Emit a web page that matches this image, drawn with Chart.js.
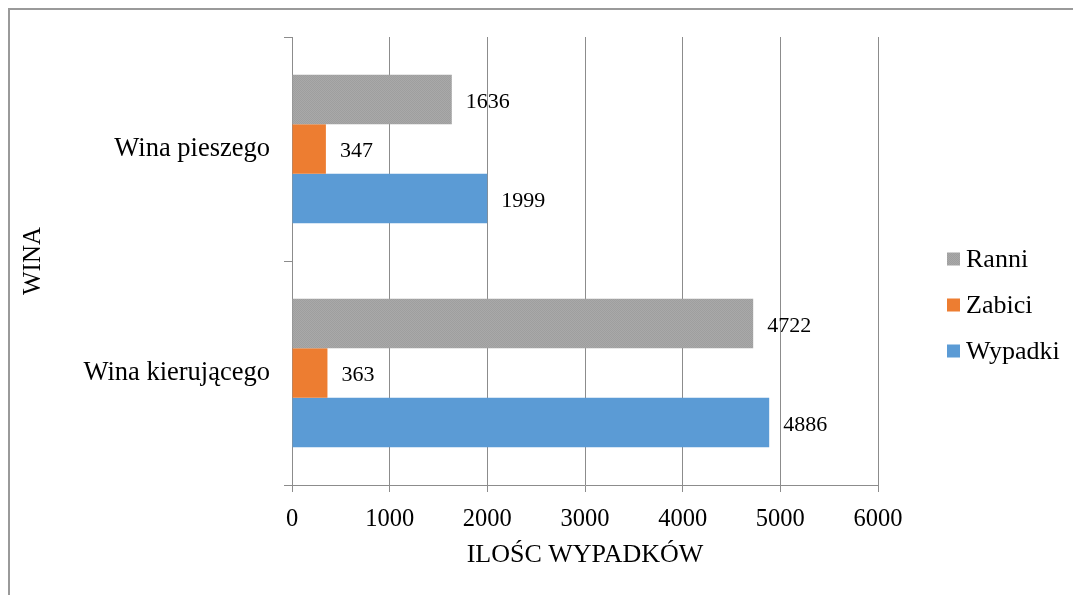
<!DOCTYPE html>
<html>
<head>
<meta charset="utf-8">
<script src="https://cdn.jsdelivr.net/npm/chart.js@4/dist/chart.umd.min.js"></script>
<style>
  html, body { margin: 0; padding: 0; background: #fff; }
  #wrap { width: 1073px; height: 595px; position: relative; }
</style>
</head>
<body>
<div id="wrap"><canvas id="c" width="1073" height="595"></canvas></div>
<script>
// Causes of accidents (top to bottom as drawn)
const categories = ['Wina pieszego', 'Wina kierującego'];
const seriesNames = ['Ranni', 'Zabici', 'Wypadki'];
const ranni = [1636, 4722];
const zabici = [347, 363];
const wypadki = [1999, 4886];
const xTicks = [0, 1000, 2000, 3000, 4000, 5000, 6000];
const xTitle = 'ILOŚC WYPADKÓW';
const yTitle = 'WINA';

const SERIF = "'Liberation Serif', 'Times New Roman', serif";
const GRID = '#8c8c8c';

// fine dotted texture for the grey series
function greyTexture() {
  const p = document.createElement('canvas');
  p.width = 2; p.height = 2;
  const g = p.getContext('2d');
  g.fillStyle = '#a9a9a9'; g.fillRect(0, 0, 2, 2);
  g.fillStyle = '#9e9e9e'; g.fillRect(0, 0, 1, 1); g.fillRect(1, 1, 1, 1);
  return g.createPattern(p, 'repeat');
}
const ctx0 = document.getElementById('c').getContext('2d');
const greyFill = greyTexture();

const seriesColors = [greyFill, '#ed7d31', '#5b9bd5'];
const seriesValues = [ranni, zabici, wypadki];

// white page with a thin frame on the top and left edges
const framePlugin = {
  id: 'frame',
  beforeDraw(chart) {
    const c = chart.ctx;
    c.save();
    c.fillStyle = '#fff';
    c.fillRect(0, 0, chart.width, chart.height);
    c.fillStyle = '#9a9a9a';
    c.fillRect(8, 8, chart.width - 8, 2);
    c.fillRect(8, 8, 2, chart.height - 8);
    c.restore();
  }
};

// value labels just past the end of each bar
const valueLabels = {
  id: 'valueLabels',
  afterDatasetsDraw(chart) {
    const c = chart.ctx;
    c.save();
    c.font = '22px ' + SERIF;
    c.fillStyle = '#000';
    c.textAlign = 'left';
    c.textBaseline = 'middle';
    chart.data.datasets.forEach((ds, i) => {
      chart.getDatasetMeta(i).data.forEach((bar, j) => {
        c.fillText(String(ds.data[j]), bar.x + 14, bar.y + 2.5);
      });
    });
    c.restore();
  }
};

// legend on the right, one entry per line
const sideLegend = {
  id: 'sideLegend',
  afterDraw(chart) {
    const c = chart.ctx;
    c.save();
    c.font = '26px ' + SERIF;
    c.textAlign = 'left';
    c.textBaseline = 'middle';
    chart.data.datasets.forEach((ds, i) => {
      const cy = 259 + i * 46;
      c.fillStyle = ds.backgroundColor;
      c.fillRect(947, cy - 6.5, 13, 13);
      c.fillStyle = '#000';
      c.fillText(ds.label, 966, cy + 1.5);
    });
    c.restore();
  }
};

new Chart(ctx0, {
  type: 'bar',
  data: {
    labels: categories,
    datasets: seriesNames.map((name, i) => ({
      label: name,
      data: seriesValues[i],
      backgroundColor: seriesColors[i],
      borderWidth: 0,
      barPercentage: 1,
      categoryPercentage: 0.664
    }))
  },
  options: {
    indexAxis: 'y',
    responsive: false,
    animation: false,
    layout: { padding: { left: 0, top: 37, right: 195, bottom: 0 } },
    plugins: {
      legend: { display: false },
      tooltip: { enabled: false }
    },
    scales: {
      x: {
        type: 'linear',
        min: xTicks[0],
        max: xTicks[xTicks.length - 1],
        afterBuildTicks(scale) { scale.ticks = xTicks.map(v => ({ value: v })); },
        afterFit(scale) { scale.height = 110; },
        grid: { color: GRID, lineWidth: 1, tickLength: 7, drawTicks: true },
        border: { color: GRID, width: 1 },
        ticks: {
          font: { family: SERIF, size: 24.5 }, color: '#000', padding: 13, maxRotation: 0,
          callback: v => String(v)
        },
        title: {
          display: true, text: xTitle, color: '#000',
          font: { family: SERIF, size: 26 }, padding: { top: 0, bottom: 24 }
        }
      },
      y: {
        type: 'category',
        afterFit(scale) { scale.width = 292; },
        grid: { offset: true, drawOnChartArea: false, drawTicks: true, tickLength: 8, color: GRID },
        border: { color: GRID, width: 1 },
        ticks: { font: { family: SERIF, size: 26.5 }, color: '#000', padding: 14 },
        title: {
          display: true, text: yTitle, color: '#000',
          font: { family: SERIF, size: 25 }, padding: { top: 18, bottom: 0 }
        }
      }
    }
  },
  plugins: [framePlugin, valueLabels, sideLegend]
});
</script>
</body>
</html>
